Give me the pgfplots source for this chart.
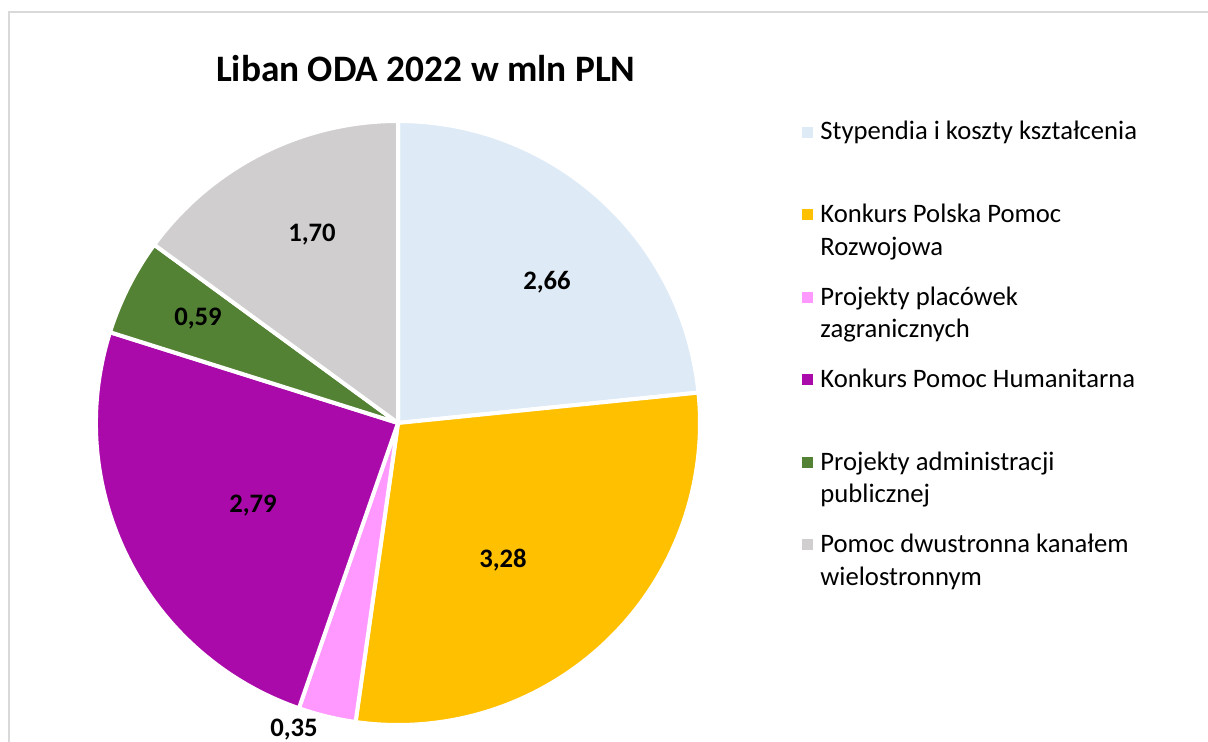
\documentclass[border=0pt]{standalone}
\usepackage{pgfplots}
\usepackage{pgfplotstable}
\pgfplotsset{compat=1.18}
\usepackage{fontspec}
\setmainfont{Carlito}

\definecolor{c1}{HTML}{DEEBF7}
\definecolor{c2}{HTML}{FFC000}
\definecolor{c3}{HTML}{FF99FF}
\definecolor{c4}{HTML}{AB0AAB}
\definecolor{c5}{HTML}{548235}
\definecolor{c6}{HTML}{D0CECE}
\definecolor{framegray}{HTML}{D9D9D9}

% values (mln PLN), label positions (in units of the pie radius), label text, colour
\pgfplotstableread{
val  lx      ly      lab   col
2.66 0.4934  0.4404  2,66  c1
3.28 0.3477  -0.4801 3,28  c2
0.35 -0.3444 -1.0397 0,35  c3
2.79 -0.4801 -0.2980 2,79  c4
0.59 -0.6623 0.3212  0,59  c5
1.70 -0.2848 0.6026  1,70  c6
}\piedata

\def\pietotal{0}
\pgfplotstableforeachcolumnelement{val}\of\piedata\as\v{%
  \pgfmathparse{\pietotal+\v}\xdef\pietotal{\pgfmathresult}}

\begin{document}
\begin{tikzpicture}
\path[use as bounding box] (0,0) rectangle (453pt,278.25pt);
\draw[framegray, line width=0.75pt] (3.375pt,-1pt) -- (3.375pt,273.75pt) -- (455pt,273.75pt);
\begin{axis}[
  at={(36pt,6.375pt)}, anchor=south west,
  x=113.25pt, y=113.25pt,
  xmin=-1, xmax=1, ymin=-1, ymax=1,
  enlargelimits=false,
  hide axis, clip=false,
  every axis title shift=0pt,
  title={Liban ODA 2022 w mln PLN},
  title style={at={(0.546,1.0651)}, anchor=base, font=\fontsize{14pt}{17pt}\selectfont\bfseries},
  legend image code/.code={\fill[#1] (0pt,0.9pt) rectangle (4pt,4.95pt);},
  legend style={draw=none, fill=none, inner sep=0pt, outer sep=0pt,
    at={(1.1689,1.00386)}, anchor=north west,
    row sep=6.94pt, column sep=2.9pt,
    font=\fontsize{10pt}{12.26pt}\selectfont,
    cells={anchor=base west},
    nodes={inner sep=0pt, outer sep=0pt, text width=150pt, align=flush left,
           text height=8pt, text depth=16pt}},
]
\pgfplotsextra{%
  \xdef\curang{90}%
  \foreach \i in {0,...,5}{%
    \pgfplotstablegetelem{\i}{val}\of\piedata \let\v\pgfplotsretval
    \pgfplotstablegetelem{\i}{col}\of\piedata \let\c\pgfplotsretval
    \pgfmathsetmacro\nxt{\curang-360*\v/\pietotal}%
    \fill[fill=\c, draw=white, line width=1.5pt, line join=round]
      (axis cs:0,0) -- ++(\curang:113.25pt)
      arc[start angle=\curang, end angle=\nxt, radius=113.25pt] -- cycle;
    \xdef\curang{\nxt}%
  }%
}
\addplot[draw=none, mark=none, forget plot,
  nodes near coords, point meta=explicit symbolic,
  nodes near coords align={center},
  every node near coord/.append style={anchor=base, font=\fontsize{10pt}{12pt}\selectfont\bfseries, inner sep=0pt}]
  table[x=lx, y=ly, meta=lab] {\piedata};

\addlegendimage{fill=c1, draw=none}
\addlegendentry{Stypendia i koszty kształcenia}
\addlegendimage{fill=c2, draw=none}
\addlegendentry{Konkurs Polska Pomoc\\Rozwojowa}
\addlegendimage{fill=c3, draw=none}
\addlegendentry{Projekty placówek\\zagranicznych}
\addlegendimage{fill=c4, draw=none}
\addlegendentry{Konkurs Pomoc Humanitarna}
\addlegendimage{fill=c5, draw=none}
\addlegendentry{Projekty administracji\\publicznej}
\addlegendimage{fill=c6, draw=none}
\addlegendentry{Pomoc dwustronna kanałem\\wielostronnym}
\end{axis}
\end{tikzpicture}
\end{document}
